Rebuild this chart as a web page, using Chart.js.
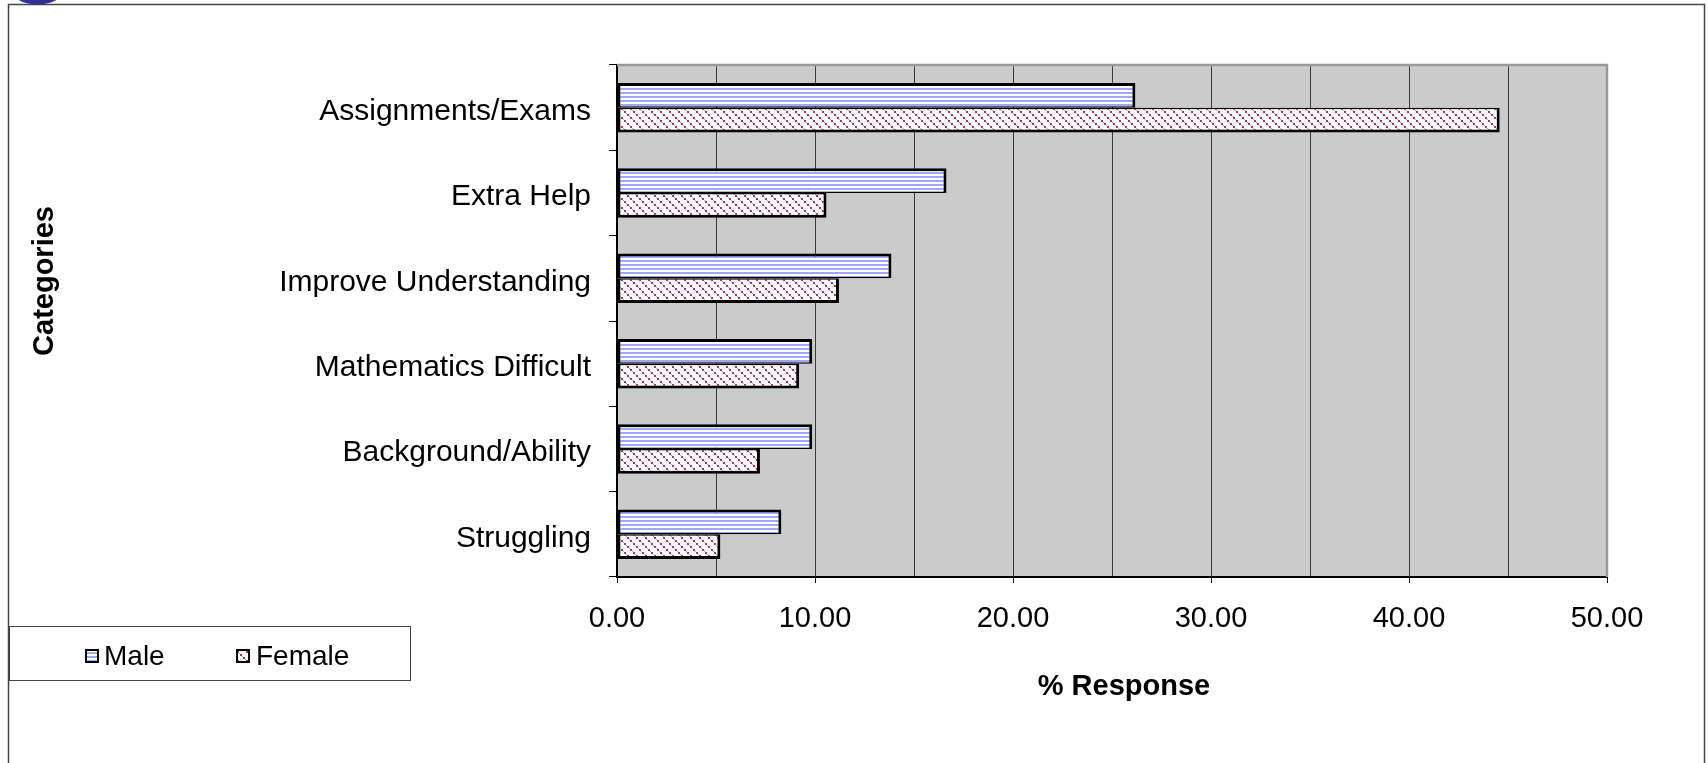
<!DOCTYPE html>
<html>
<head>
<meta charset="utf-8">
<title>% Response by category</title>
<script src="https://cdn.jsdelivr.net/npm/chart.js@4.4.1/dist/chart.umd.min.js"></script>
<style>
    html, body { margin: 0; padding: 0; background: #ffffff; }
    #wrap { position: relative; width: 1708px; height: 763px; overflow: hidden; }
</style>
</head>
<body>
<div id="wrap"><canvas id="responseChart" width="1708" height="763"></canvas></div>
<script>
'use strict';

const FONT = "'Liberation Sans', Arial, sans-serif";

const CATEGORIES = [
    'Assignments/Exams',
    'Extra Help',
    'Improve Understanding',
    'Mathematics Difficult',
    'Background/Ability',
    'Struggling',
];
const MALE = [26.18, 16.64, 13.86, 9.86, 9.86, 8.30];
const FEMALE = [44.58, 10.58, 11.21, 9.20, 7.22, 5.22];
const X_TICKS = [0, 10, 20, 30, 40, 50];

const colors = {
    plot: '#cbcbcb',
    grid: '#3a3a3a',
    plotEdge: '#9a9a9a',
    stripe: '#9ea6ff',
    hatch: '#a3386c',
    hatchSoft: '#d49ab6',
    frame: '#444444',
};

// ── Fill patterns ─────────────────────────────────────────────────────────────

function stripePattern(ctx) {
    const tile = document.createElement('canvas');
    tile.width = 4;
    tile.height = 4;
    const t = tile.getContext('2d');
    t.fillStyle = '#ffffff';
    t.fillRect(0, 0, 4, 4);
    t.fillStyle = colors.stripe;
    t.fillRect(0, 0, 4, 2);
    return ctx.createPattern(tile, 'repeat');
}

// dotted downward diagonals
function hatchPattern(ctx) {
    const size = 9;
    const tile = document.createElement('canvas');
    tile.width = size;
    tile.height = size;
    const t = tile.getContext('2d');
    t.fillStyle = '#ffffff';
    t.fillRect(0, 0, size, size);
    for (let i = 0; i < size; i += 3) {
        t.fillStyle = colors.hatch;
        t.fillRect(i, i, 2, 2);
        t.fillStyle = colors.hatchSoft;
        t.fillRect(i + 2, i + 2, 1, 1);
    }
    return ctx.createPattern(tile, 'repeat');
}

// ── Decorations: plot fill, frame, titles, legend ─────────────────────────────

const decorations = {
    id: 'decorations',
    beforeDraw(chart) {
        const { ctx, chartArea: a } = chart;
        ctx.save();
        ctx.fillStyle = colors.plot;
        ctx.fillRect(a.left, a.top, a.right - a.left, a.bottom - a.top);
        ctx.restore();
    },
    beforeDatasetsDraw(chart) {
        const { ctx, chartArea: a } = chart;
        ctx.save();
        ctx.strokeStyle = colors.plotEdge;
        ctx.lineWidth = 2.5;
        ctx.beginPath();
        ctx.moveTo(a.left, a.top);
        ctx.lineTo(a.right, a.top);
        ctx.lineTo(a.right, a.bottom);
        ctx.stroke();
        ctx.restore();
    },
    afterDraw(chart) {
        const ctx = chart.ctx;
        ctx.save();

        // outer frame, open at the bottom
        ctx.strokeStyle = colors.frame;
        ctx.lineWidth = 1.5;
        ctx.beginPath();
        ctx.moveTo(8.5, 763);
        ctx.lineTo(8.5, 4.5);
        ctx.lineTo(1704.5, 4.5);
        ctx.lineTo(1704.5, 763);
        ctx.stroke();

        ctx.fillStyle = '#303096';
        ctx.beginPath();
        ctx.ellipse(37.5, -4, 21, 8.5, 0, 0, Math.PI * 2);
        ctx.fill();

        // axis titles
        ctx.fillStyle = '#000000';
        ctx.font = 'bold 29px ' + FONT;
        ctx.textAlign = 'center';
        ctx.textBaseline = 'middle';
        ctx.fillText('% Response', 1124, 687);
        ctx.translate(45, 281);
        ctx.rotate(-Math.PI / 2);
        ctx.fillText('Categories', 0, 0);
        ctx.setTransform(1, 0, 0, 1, 0, 0);

        // legend
        ctx.strokeStyle = colors.frame;
        ctx.lineWidth = 1;
        ctx.strokeRect(9.5, 626.5, 401, 54);
        const items = [
            { ds: chart.data.datasets[0], box: 86, text: 104 },
            { ds: chart.data.datasets[1], box: 237, text: 256 },
        ];
        ctx.font = '28px ' + FONT;
        ctx.textAlign = 'left';
        for (const it of items) {
            ctx.fillStyle = it.ds.backgroundColor;
            ctx.fillRect(it.box, 650, 12, 12);
            ctx.strokeStyle = '#000000';
            ctx.lineWidth = 2;
            ctx.strokeRect(it.box, 650, 12, 12);
            ctx.fillStyle = '#000000';
            ctx.fillText(it.ds.label, it.text, 657);
        }
        ctx.restore();
    },
};

// ── Chart ─────────────────────────────────────────────────────────────────────

function renderChart() {
    const ctx = document.getElementById('responseChart').getContext('2d');

    new Chart(ctx, {
        type: 'bar',
        data: {
            labels: CATEGORIES,
            datasets: [
                {
                    label: 'Male',
                    data: MALE,
                    backgroundColor: stripePattern(ctx),
                    borderColor: '#000000',
                    borderWidth: { top: 3, right: 3, bottom: 1.5, left: 3 },
                    borderSkipped: false,
                },
                {
                    label: 'Female',
                    data: FEMALE,
                    backgroundColor: hatchPattern(ctx),
                    borderColor: '#000000',
                    borderWidth: { top: 1.5, right: 3, bottom: 3, left: 3 },
                    borderSkipped: false,
                },
            ],
        },
        options: {
            indexAxis: 'y',
            responsive: false,
            animation: false,
            categoryPercentage: 0.58,
            barPercentage: 1.0,
            layout: { padding: { left: 0, top: 65, right: 101, bottom: 0 } },
            plugins: {
                legend: { display: false },
                tooltip: { enabled: false },
            },
            scales: {
                x: {
                    type: 'linear',
                    min: 0,
                    max: 50,
                    afterFit(scale) { scale.height = 186; },
                    ticks: {
                        stepSize: 5,
                        autoSkip: false,
                        maxRotation: 0,
                        padding: 19,
                        color: '#000000',
                        font: { family: FONT, size: 29 },
                        callback: v => X_TICKS.includes(v) ? v.toFixed(2) : '',
                    },
                    grid: {
                        color: colors.grid,
                        lineWidth: 1,
                        tickLength: 6,
                        tickColor: c => X_TICKS.includes(c.tick.value) ? '#000000' : 'rgba(0,0,0,0)',
                    },
                    border: { display: true, color: '#000000', width: 2 },
                },
                y: {
                    afterFit(scale) { scale.width = 617; },
                    ticks: {
                        padding: 18,
                        labelOffset: 4,
                        color: '#000000',
                        font: { family: FONT, size: 30 },
                    },
                    grid: {
                        offset: true,
                        drawOnChartArea: false,
                        drawTicks: true,
                        tickLength: 8,
                        color: '#000000',
                    },
                    border: { display: true, color: '#000000', width: 2 },
                },
            },
        },
        plugins: [decorations],
    });
}

// ── Bootstrap ─────────────────────────────────────────────────────────────────

document.addEventListener('DOMContentLoaded', renderChart);
</script>
</body>
</html>
